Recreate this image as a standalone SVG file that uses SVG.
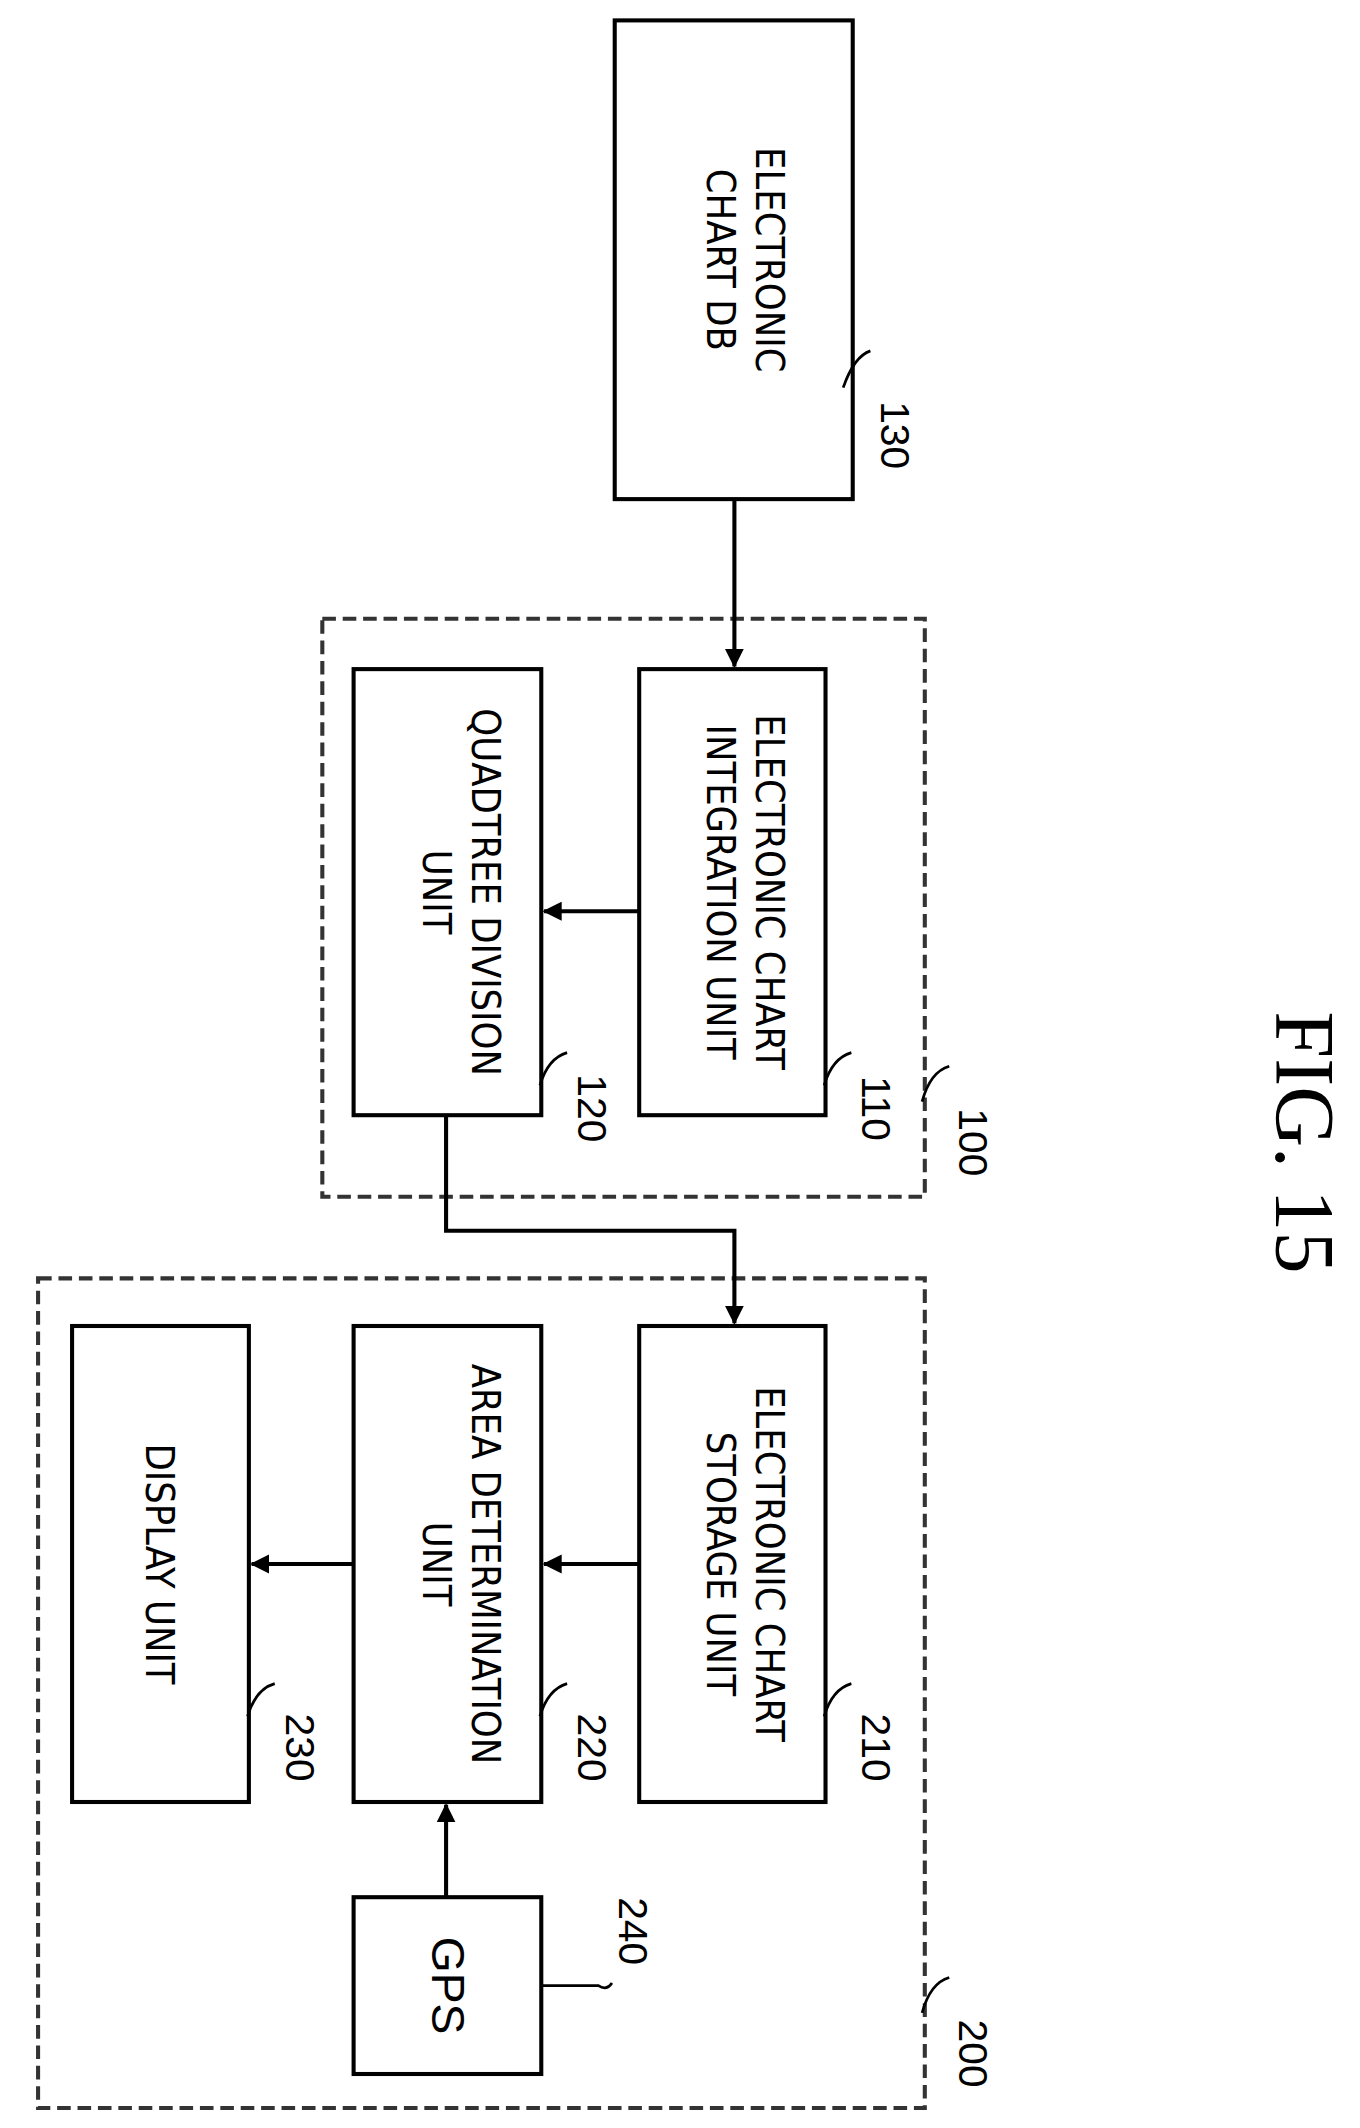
<svg xmlns="http://www.w3.org/2000/svg" width="1360" height="2128" viewBox="0 0 1360 2128">
<defs>
<marker id="ah" markerWidth="14" markerHeight="14" refX="13" refY="7" orient="auto" markerUnits="userSpaceOnUse"><path d="M0,0 L14,7 L0,14 Z" fill="#000"/></marker>
<style>
.b{fill:#fff;stroke:#000;stroke-width:3}
.d{fill:none;stroke:#333;stroke-width:3;stroke-dasharray:10,5}
.t{font-family:"DejaVu Sans Condensed","Liberation Sans Narrow","Liberation Sans",sans-serif;font-size:29px;text-anchor:middle}
.l{font-family:"Liberation Sans",sans-serif;font-size:30px;text-anchor:middle}
.c{fill:none;stroke:#000;stroke-width:3}
.ld{fill:none;stroke:#000;stroke-width:2}
</style>
</defs>
<rect width="1360" height="2128" fill="#fff"/>
<g transform="scale(1.36)">
<g id="n130"><rect class="b" x="452" y="15" width="175" height="352"/>
<text class="t" transform="translate(540,191) rotate(90)"><tspan x="0" y="-16">ELECTRONIC</tspan><tspan x="0" y="20">CHART DB</tspan></text>
<path class="ld" d="M620,285 Q628,262 640,258"/><text class="l" transform="translate(648,320) rotate(90)">130</text></g>
<g id="n100"><rect class="d" x="237" y="455" width="443" height="425"/>
<path class="ld" d="M678,810 Q684,788 698,784"/><text class="l" transform="translate(705,840) rotate(90)">100</text></g>
<g id="n110"><rect class="b" x="470" y="492" width="137" height="328"/>
<text class="t" transform="translate(538,656) rotate(90)"><tspan x="0" y="-18">ELECTRONIC CHART</tspan><tspan x="0" y="18">INTEGRATION UNIT</tspan></text>
<path class="ld" d="M606,798 Q612,778 626,774"/><text class="l" transform="translate(634,815) rotate(90)">110</text></g>
<g id="n120"><rect class="b" x="260" y="492" width="138" height="328"/>
<text class="t" transform="translate(329,656) rotate(90)"><tspan x="0" y="-18">QUADTREE DIVISION</tspan><tspan x="0" y="18">UNIT</tspan></text>
<path class="ld" d="M397,798 Q403,778 417,774"/><text class="l" transform="translate(425,815) rotate(90)">120</text></g>
<g id="n200"><rect class="d" x="28" y="940" width="652" height="610"/>
<path class="ld" d="M678,1480 Q684,1458 698,1454"/><text class="l" transform="translate(705,1510) rotate(90)">200</text></g>
<g id="n210"><rect class="b" x="470" y="975" width="137" height="350"/>
<text class="t" transform="translate(538,1150) rotate(90)"><tspan x="0" y="-18">ELECTRONIC CHART</tspan><tspan x="0" y="18">STORAGE UNIT</tspan></text>
<path class="ld" d="M606,1262 Q612,1242 626,1238"/><text class="l" transform="translate(634,1285) rotate(90)">210</text></g>
<g id="n220"><rect class="b" x="260" y="975" width="138" height="350"/>
<text class="t" transform="translate(329,1150) rotate(90)"><tspan x="0" y="-18">AREA DETERMINATION</tspan><tspan x="0" y="18">UNIT</tspan></text>
<path class="ld" d="M397,1262 Q403,1242 417,1238"/><text class="l" transform="translate(425,1285) rotate(90)">220</text></g>
<g id="n230"><rect class="b" x="53" y="975" width="130" height="350"/>
<text class="t" transform="translate(107,1150) rotate(90)">DISPLAY UNIT</text>
<path class="ld" d="M182,1262 Q188,1242 202,1238"/><text class="l" transform="translate(210,1285) rotate(90)">230</text></g>
<g id="n240"><rect class="b" x="260" y="1395" width="138" height="130"/>
<text class="l" transform="translate(318,1460) rotate(90)" style="font-size:34px">GPS</text>
<path class="ld" d="M398,1460 L440,1460 Q446,1464 450,1458"/><text class="l" transform="translate(455,1420) rotate(90)">240</text></g>
<g id="connectors">
<path class="c" d="M540,367 L540,490" marker-end="url(#ah)"/>
<path class="c" d="M470,670 L400,670" marker-end="url(#ah)"/>
<path class="c" d="M328,820 L328,905 L540,905 L540,973" marker-end="url(#ah)"/>
<path class="c" d="M470,1150 L400,1150" marker-end="url(#ah)"/>
<path class="c" d="M260,1150 L185,1150" marker-end="url(#ah)"/>
<path class="c" d="M328,1395 L328,1327" marker-end="url(#ah)"/>
</g>
<text transform="translate(938,840) rotate(90)" style="font-family:'Liberation Serif',serif;font-size:62px;text-anchor:middle">FIG. 15</text>
</g>
</svg>
